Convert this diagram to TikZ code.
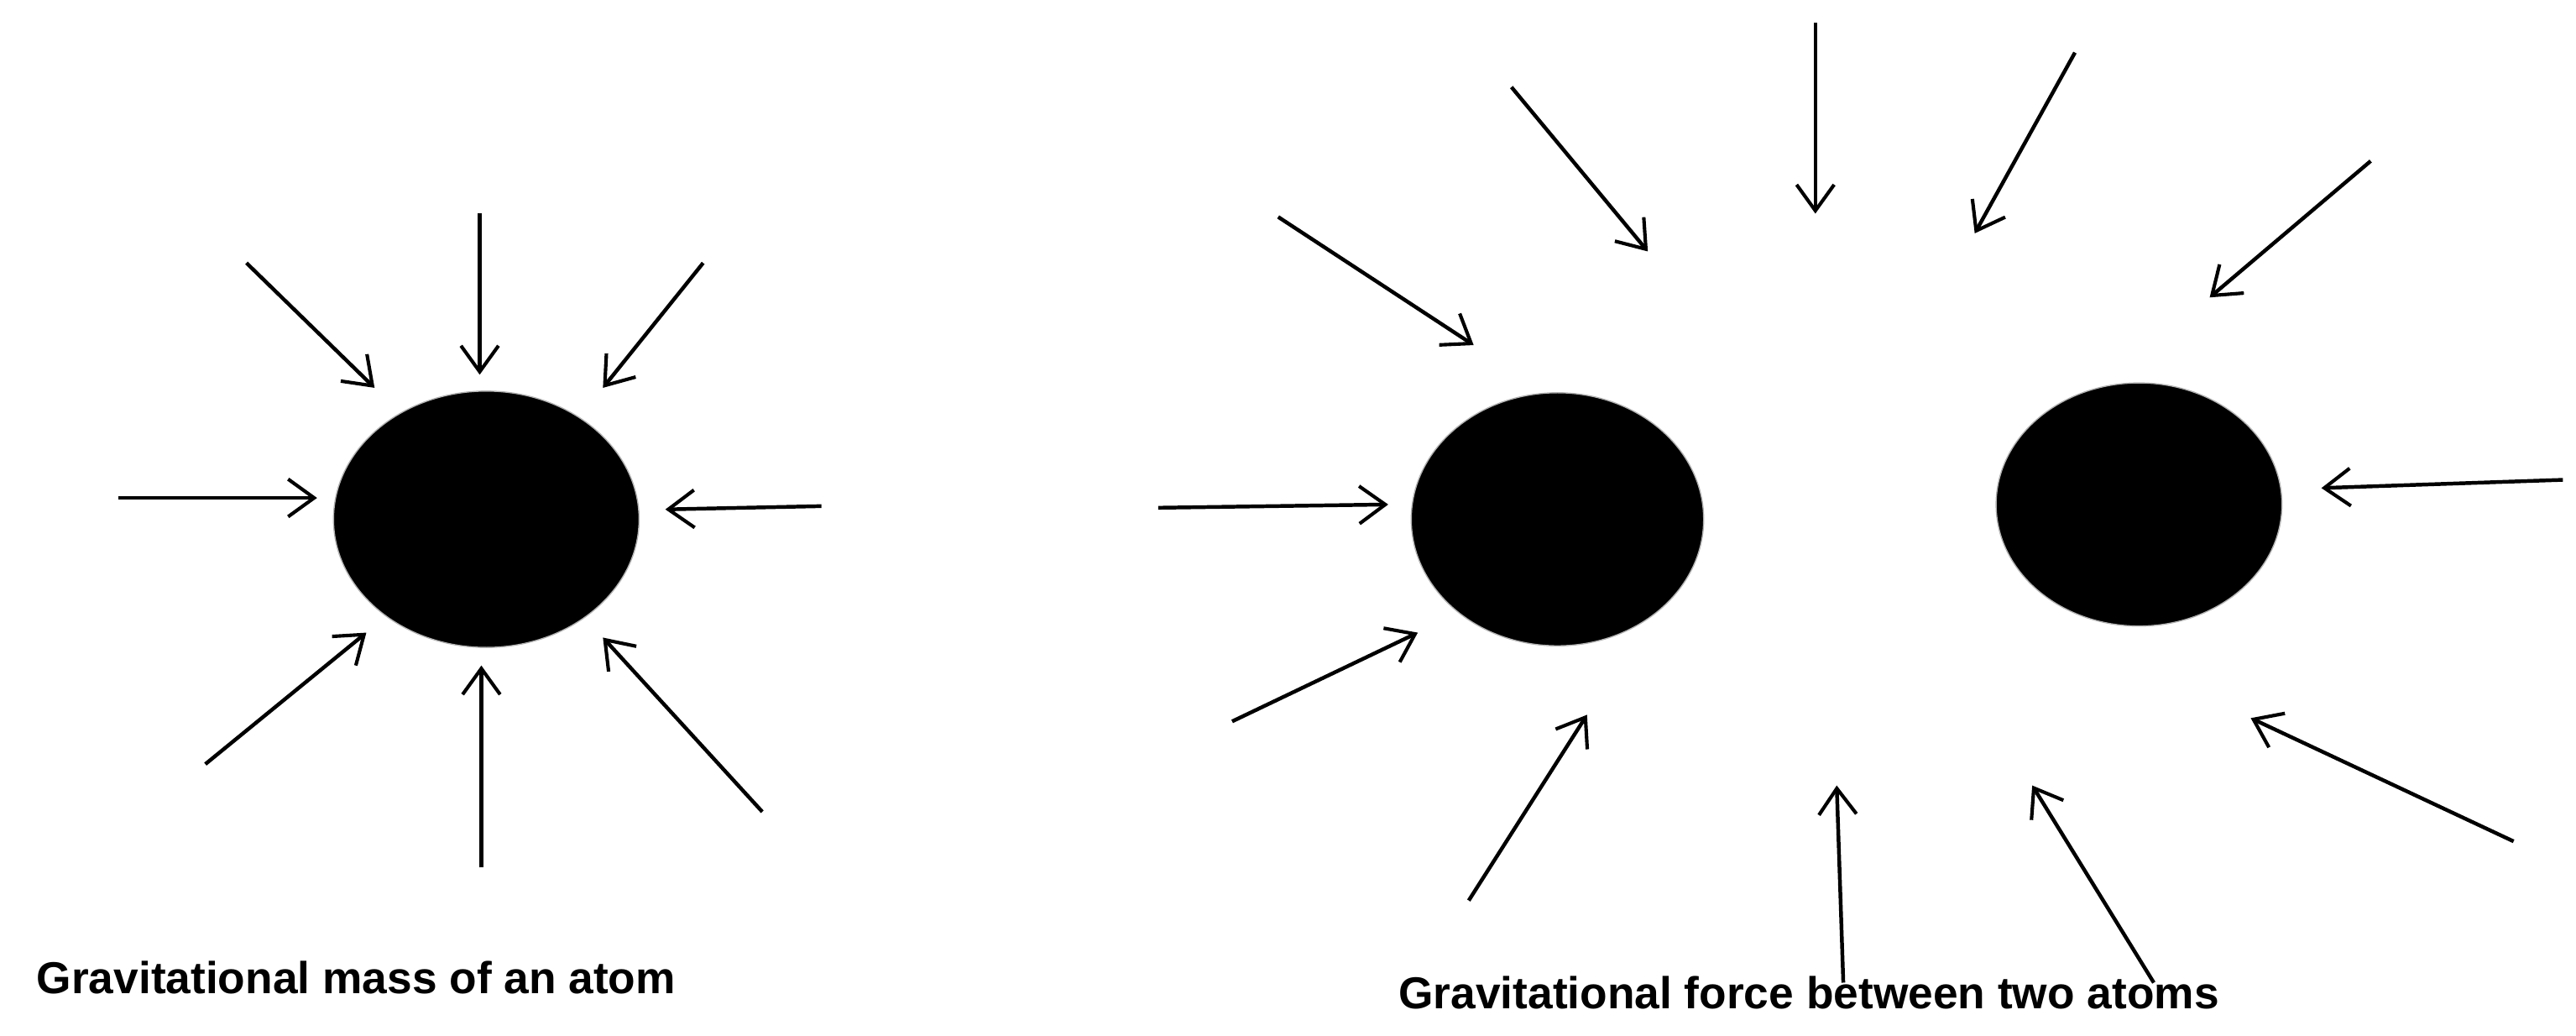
\documentclass[tikz,border=0pt]{standalone}
\usepackage{fontspec}
\setmainfont{Liberation Sans}
\usetikzlibrary{arrows.meta}
\begin{document}
\begin{tikzpicture}[x=0.02cm,y=-0.02cm,
  force/.style={line width=1.3pt,-{Straight Barb[length=9pt,width=13pt,line width=1.2pt]}},
  atom/.style={ellipse,fill=black,draw=gray!60,line width=0.5pt,inner sep=0pt},
  lbl/.style={font=\fontsize{15.5}{18}\selectfont\bfseries,anchor=west,inner sep=0pt}]
\useasboundingbox (0,0) rectangle (1568,630);
\fill[white] (0,0) rectangle (1568,630);
\usetikzlibrary{shapes.geometric}
\fill[black,draw=gray!60] (296,316) ellipse [x radius=93,y radius=78];
\fill[black,draw=gray!60] (948,316) ellipse [x radius=89,y radius=77];
\fill[black,draw=gray!60] (1302,307) ellipse [x radius=87,y radius=74];
\foreach \a/\b/\c/\d in {150/160/228/236, 292/130/292/228, 428/160/367/236, 72/303/193/303,
  500/308/405/310, 125/465/223/385, 293/528/293/405, 464/494/367/388,
  778/132/897/210, 920/53/1003/153, 1105/14/1105/130, 1263/32/1202/142, 1443/98/1345/181,
  705/309/845/307, 750/439/863/385, 894/548/966/435, 1122/598/1118/478, 1311/598/1237/478,
  1530/512/1370/437, 1560/292/1413/297}
  {\coordinate (s) at (\a,\b); \coordinate (e) at (\c,\d); \draw[force] (s) -- (e);}
\node[lbl] (t1) at (22,595) {Gravitational mass of an atom};
\node[lbl] (t2) at (851,604) {Gravitational force between two atoms};
\end{tikzpicture}
\end{document}
